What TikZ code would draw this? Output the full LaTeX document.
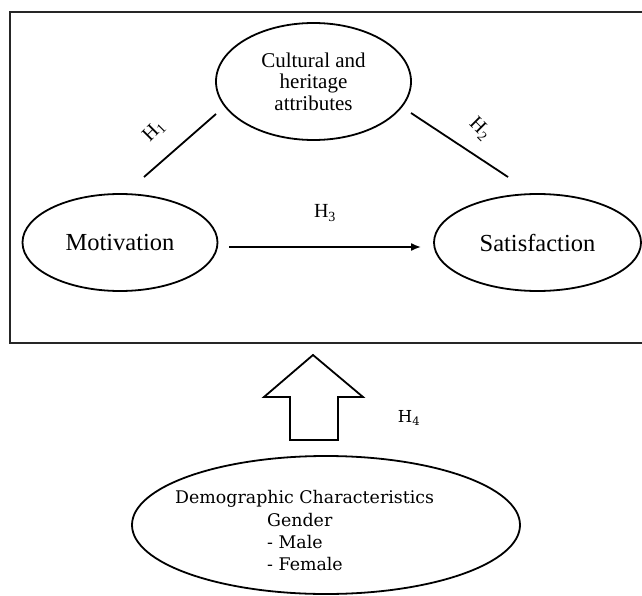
\documentclass[tikz,border=0pt]{standalone}
\usepackage{fontspec}
\setmainfont{Liberation Serif}
\newfontfamily\demofont{DejaVu Serif}
\usetikzlibrary{shapes.geometric,arrows.meta,calc}

\tikzset{
  oval/.style={draw, ellipse, line width=1.8pt, inner sep=0pt, align=center},
  link/.style={line width=1.8pt},
  hlabel/.style={inner sep=0pt, font=\fontsize{20}{22}\selectfont},
  demotext/.style={inner sep=0pt, anchor=base west, font=\demofont\fontsize{17.4}{20}\selectfont},
  frame/.style={draw=black!85, line width=2.4pt},
  blockarrow/.style={draw, line width=1.8pt, fill=white, line join=miter}
}

\begin{document}
\begin{tikzpicture}[x=1pt, y=-1pt]
  \useasboundingbox (0,0) rectangle (642,596);

  % outer frame (its right side runs past the page edge)
  \coordinate (frTR) at (650,12);
  \coordinate (frTL) at (10,12);
  \coordinate (frBL) at (10,343);
  \coordinate (frBR) at (650,343);
  \draw[frame] (frTR) -- (frTL) -- (frBL) -- (frBR);

  % constructs
  \node[oval, minimum width=195pt, minimum height=117pt,
        font=\fontsize{21}{21.5}\selectfont] (cult) at (313.5,81.5)
        {Cultural and\\heritage\\attributes};
  \node[oval, minimum width=195pt, minimum height=97pt,
        font=\fontsize{24.5}{26}\selectfont] (mot) at (120,242.5) {Motivation};
  \node[oval, minimum width=207pt, minimum height=97pt,
        font=\fontsize{24.5}{26}\selectfont] (sat) at (537.5,242.5) {Satisfaction};

  % hypothesised links
  \coordinate (h1a) at (144,177);
  \coordinate (h1b) at (216,114);
  \draw[link] (h1a) -- (h1b);
  \coordinate (h2a) at (411,113);
  \coordinate (h2b) at (508,177);
  \draw[link] (h2a) -- (h2b);
  \draw[link, -{Latex[length=10pt, width=8pt]}]
       ($(mot.east)+(11,4.5)$) -- ($(sat.west)+(-12,4.5)$);

  \node[hlabel, rotate=45] (lh1) at (154,131) {H\textsubscript{1}};
  \node[hlabel, rotate=-45] (lh2) at (480,129) {H\textsubscript{2}};
  \node[hlabel] (lh3) at (325,213) {H\textsubscript{3}};

  % demographic characteristics
  \node[draw, ellipse, line width=1.8pt, minimum width=388pt, minimum height=138pt]
        (demo) at (326,525) {};
  \node[demotext] (demoA) at (175,503) {Demographic Characteristics};
  \node[demotext] (demoB) at (267,526) {Gender};
  \node[demotext] (demoC) at (267,548) {- Male};
  \node[demotext] (demoD) at (267,570) {- Female};

  % block arrow from the demographic set to the model frame
  \draw[blockarrow] (313,355) -- (363,397) -- (338,397) -- (338,440)
        -- (290,440) -- (290,397) -- (264,397) -- cycle;
  \node[inner sep=0pt, font=\demofont\fontsize{16.5}{18}\selectfont] (lh4) at (409,418)
        {H\textsubscript{4}};
\end{tikzpicture}
\end{document}
